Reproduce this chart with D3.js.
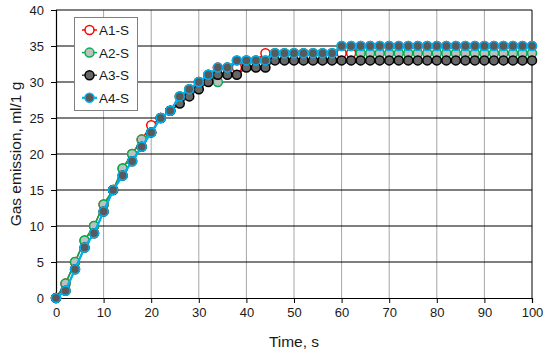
<!DOCTYPE html>
<html><head><meta charset="utf-8">
<script src="https://cdn.jsdelivr.net/npm/d3@7"></script>
<style>body{margin:0;background:#fff}svg{display:block}</style>
</head><body>
<svg id="c" width="550" height="353"></svg>
<script>
const times = d3.range(0, 101, 2);
const seriesNames = ["A1-S", "A2-S", "A3-S", "A4-S"];
const a1 = [0,2,5,8,10,13,15,18,20,22,24,25,26,28,29,30,31,32,32,32,33,33,34,34,34,34,34,34,34,34,34,34,35,35,35,35,35,35,35,35,35,35,35,35,35,35,35,35,35,35,35];
const a2 = [0,2,5,8,10,13,15,18,20,22,23,25,26,28,29,30,31,30,32,33,33,33,33,34,34,34,34,34,34,34,35,35,34,34,34,34,34,34,34,34,34,34,34,34,34,34,34,34,34,34,34];
const a3 = [0,1,4,7,9,12,15,17,19,21,23,25,26,27,28,29,30,31,31,31,32,32,32,33,33,33,33,33,33,33,33,33,33,33,33,33,33,33,33,33,33,33,33,33,33,33,33,33,33,33,33];
const a4 = [0,1,4,7,9,12,15,17,19,21,23,25,26,28,29,30,31,32,32,33,33,33,33,34,34,34,34,34,34,34,35,35,35,35,35,35,35,35,35,35,35,35,35,35,35,35,35,35,35,35,35];
const xTicks = d3.range(0, 101, 10);
const yTicks = d3.range(0, 41, 5);

const styles = [
  {line:"#ff0000", stroke:"#ff0000", fill:"#ffffff", lw:1.5},
  {line:"#00b050", stroke:"#00b050", fill:"#bfbfbf", lw:1.5},
  {line:"#404040", stroke:"#000000", fill:"#666666", lw:1.5},
  {line:"#00b0f0", stroke:"#00b0f0", fill:"#595959", lw:2.25}
];
const data = [a1, a2, a3, a4];

const svg = d3.select("#c");
const font = "'Liberation Sans', Arial, sans-serif";
const x = d3.scaleLinear().domain([0, 100]).range([56, 532]);
const y = d3.scaleLinear().domain([0, 40]).range([298, 10]);

svg.append("g").selectAll("line").data(xTicks.slice(1)).join("line")
  .attr("x1", d => x(d)).attr("x2", d => x(d)).attr("y1", y(0)).attr("y2", y(40))
  .attr("stroke", d => d === 100 ? "#000" : "#a6a6a6").attr("stroke-width", 1);
svg.append("g").selectAll("line").data(yTicks.slice(1)).join("line")
  .attr("x1", x(0)).attr("x2", x(100)).attr("y1", d => y(d)).attr("y2", d => y(d))
  .attr("stroke", "#000").attr("stroke-width", 1);

const xAxis = svg.append("g").attr("transform", `translate(0,${y(0)})`)
  .call(d3.axisBottom(x).tickValues(xTicks).tickSize(5).tickPadding(5));
const yAxis = svg.append("g").attr("transform", `translate(${x(0)},0)`)
  .call(d3.axisLeft(y).tickValues(yTicks).tickSize(5).tickPadding(7));
[xAxis, yAxis].forEach(g => {
  g.select(".domain").attr("stroke", "#000").attr("stroke-width", 1.2);
  g.selectAll(".tick line").attr("stroke", "#000");
  g.selectAll("text").attr("font-family", font).attr("font-size", 13).attr("fill", "#1a1a1a");
});

const line = d3.line().x((d, i) => x(times[i])).y(d => y(d));
data.forEach((arr, k) => {
  const s = styles[k];
  const g = svg.append("g");
  g.append("path").datum(arr).attr("d", line).attr("fill", "none")
    .attr("stroke", s.line).attr("stroke-width", s.lw);
  g.selectAll("circle").data(arr).join("circle")
    .attr("cx", (d, i) => x(times[i])).attr("cy", d => y(d)).attr("r", 4.5)
    .attr("fill", s.fill).attr("stroke", s.stroke).attr("stroke-width", 1.5);
});

const lg = svg.append("g");
lg.append("rect").attr("x", 74.5).attr("y", 17.5).attr("width", 63).attr("height", 93)
  .attr("fill", "#fff").attr("stroke", "#808080").attr("stroke-width", 1);
seriesNames.forEach((n, k) => {
  const s = styles[k];
  const cy = 30 + k * 22.6;
  lg.append("line").attr("x1", 82).attr("x2", 97).attr("y1", cy).attr("y2", cy)
    .attr("stroke", s.line).attr("stroke-width", s.lw);
  lg.append("circle").attr("cx", 89.5).attr("cy", cy).attr("r", 4.5)
    .attr("fill", s.fill).attr("stroke", s.stroke).attr("stroke-width", 1.5);
  lg.append("text").attr("x", 99).attr("y", cy + 5).text(n)
    .attr("font-family", font).attr("font-size", 13.5).attr("fill", "#1a1a1a");
});

svg.append("text").attr("x", (x(0) + x(100)) / 2).attr("y", 347).attr("text-anchor", "middle")
  .attr("font-family", font).attr("font-size", 15.5).attr("fill", "#1a1a1a").text("Time, s");
svg.append("text").attr("transform", `translate(21,${y(20)}) rotate(-90)`).attr("text-anchor", "middle")
  .attr("font-family", font).attr("font-size", 15.5).attr("fill", "#1a1a1a").text("Gas emission, ml/1 g");
</script>
</body></html>
